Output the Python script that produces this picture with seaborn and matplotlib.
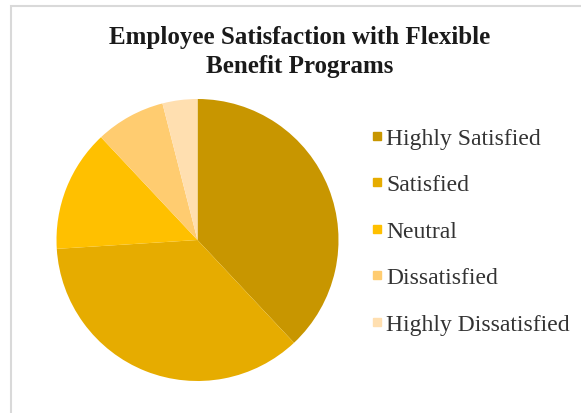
import matplotlib
matplotlib.use("Agg")
import matplotlib.pyplot as plt
from matplotlib.patches import Rectangle
from matplotlib.lines import Line2D
import seaborn as sns

# Survey shares (percent) for each satisfaction level
categories = ["Highly Satisfied", "Satisfied", "Neutral", "Dissatisfied", "Highly Dissatisfied"]
shares = [38, 36, 14, 8, 4]
colors = ["#C89600", "#E6AC00", "#FFC000", "#FFCC70", "#FFDFB0"]
title = "Employee Satisfaction with Flexible\nBenefit Programs"

sns.set_theme(style="white")
plt.rcParams["font.family"] = ["Liberation Serif", "DejaVu Serif"]

W, H = 581, 414
fig = plt.figure(figsize=(W / 100, H / 100), dpi=100)
fig.patch.set_facecolor("white")

# Light frame around the chart area
frame = Rectangle((11 / W, -0.05), 1.2, (H - 7) / H + 0.05, transform=fig.transFigure,
                  fill=False, edgecolor="#d9d9d9", linewidth=1.5)
fig.add_artist(frame)

# Pie axes: centre (197.5, 241) px, radius 141 px
cx, cy, r = 197.5, 241, 141
ax = fig.add_axes([(cx - r) / W, (H - cy - r) / H, 2 * r / W, 2 * r / H])
ax.pie(shares, colors=colors, startangle=90, counterclock=False,
       wedgeprops=dict(linewidth=0))
ax.set_xlim(-1.0, 1.0)
ax.set_ylim(-1.0, 1.0)
ax.set_aspect("equal")
ax.axis("off")

fig.text(300 / W, 1 - 52 / H, title, ha="center", va="center",
         fontsize=18, fontweight="bold", color="#1a1a1a", linespacing=1.32)

handles = [Line2D([0], [0], marker="s", linestyle="none", markersize=6,
                  markerfacecolor=c, markeredgecolor=c) for c in colors]
fig.legend(handles, categories, loc="upper left",
           bbox_to_anchor=(351 / W, 1 - 107 / H), frameon=False,
           fontsize=17, labelspacing=1.06, handletextpad=0.2,
           handlelength=0.4, labelcolor="#333333")

fig.savefig("out.png", dpi=100, facecolor="white")
